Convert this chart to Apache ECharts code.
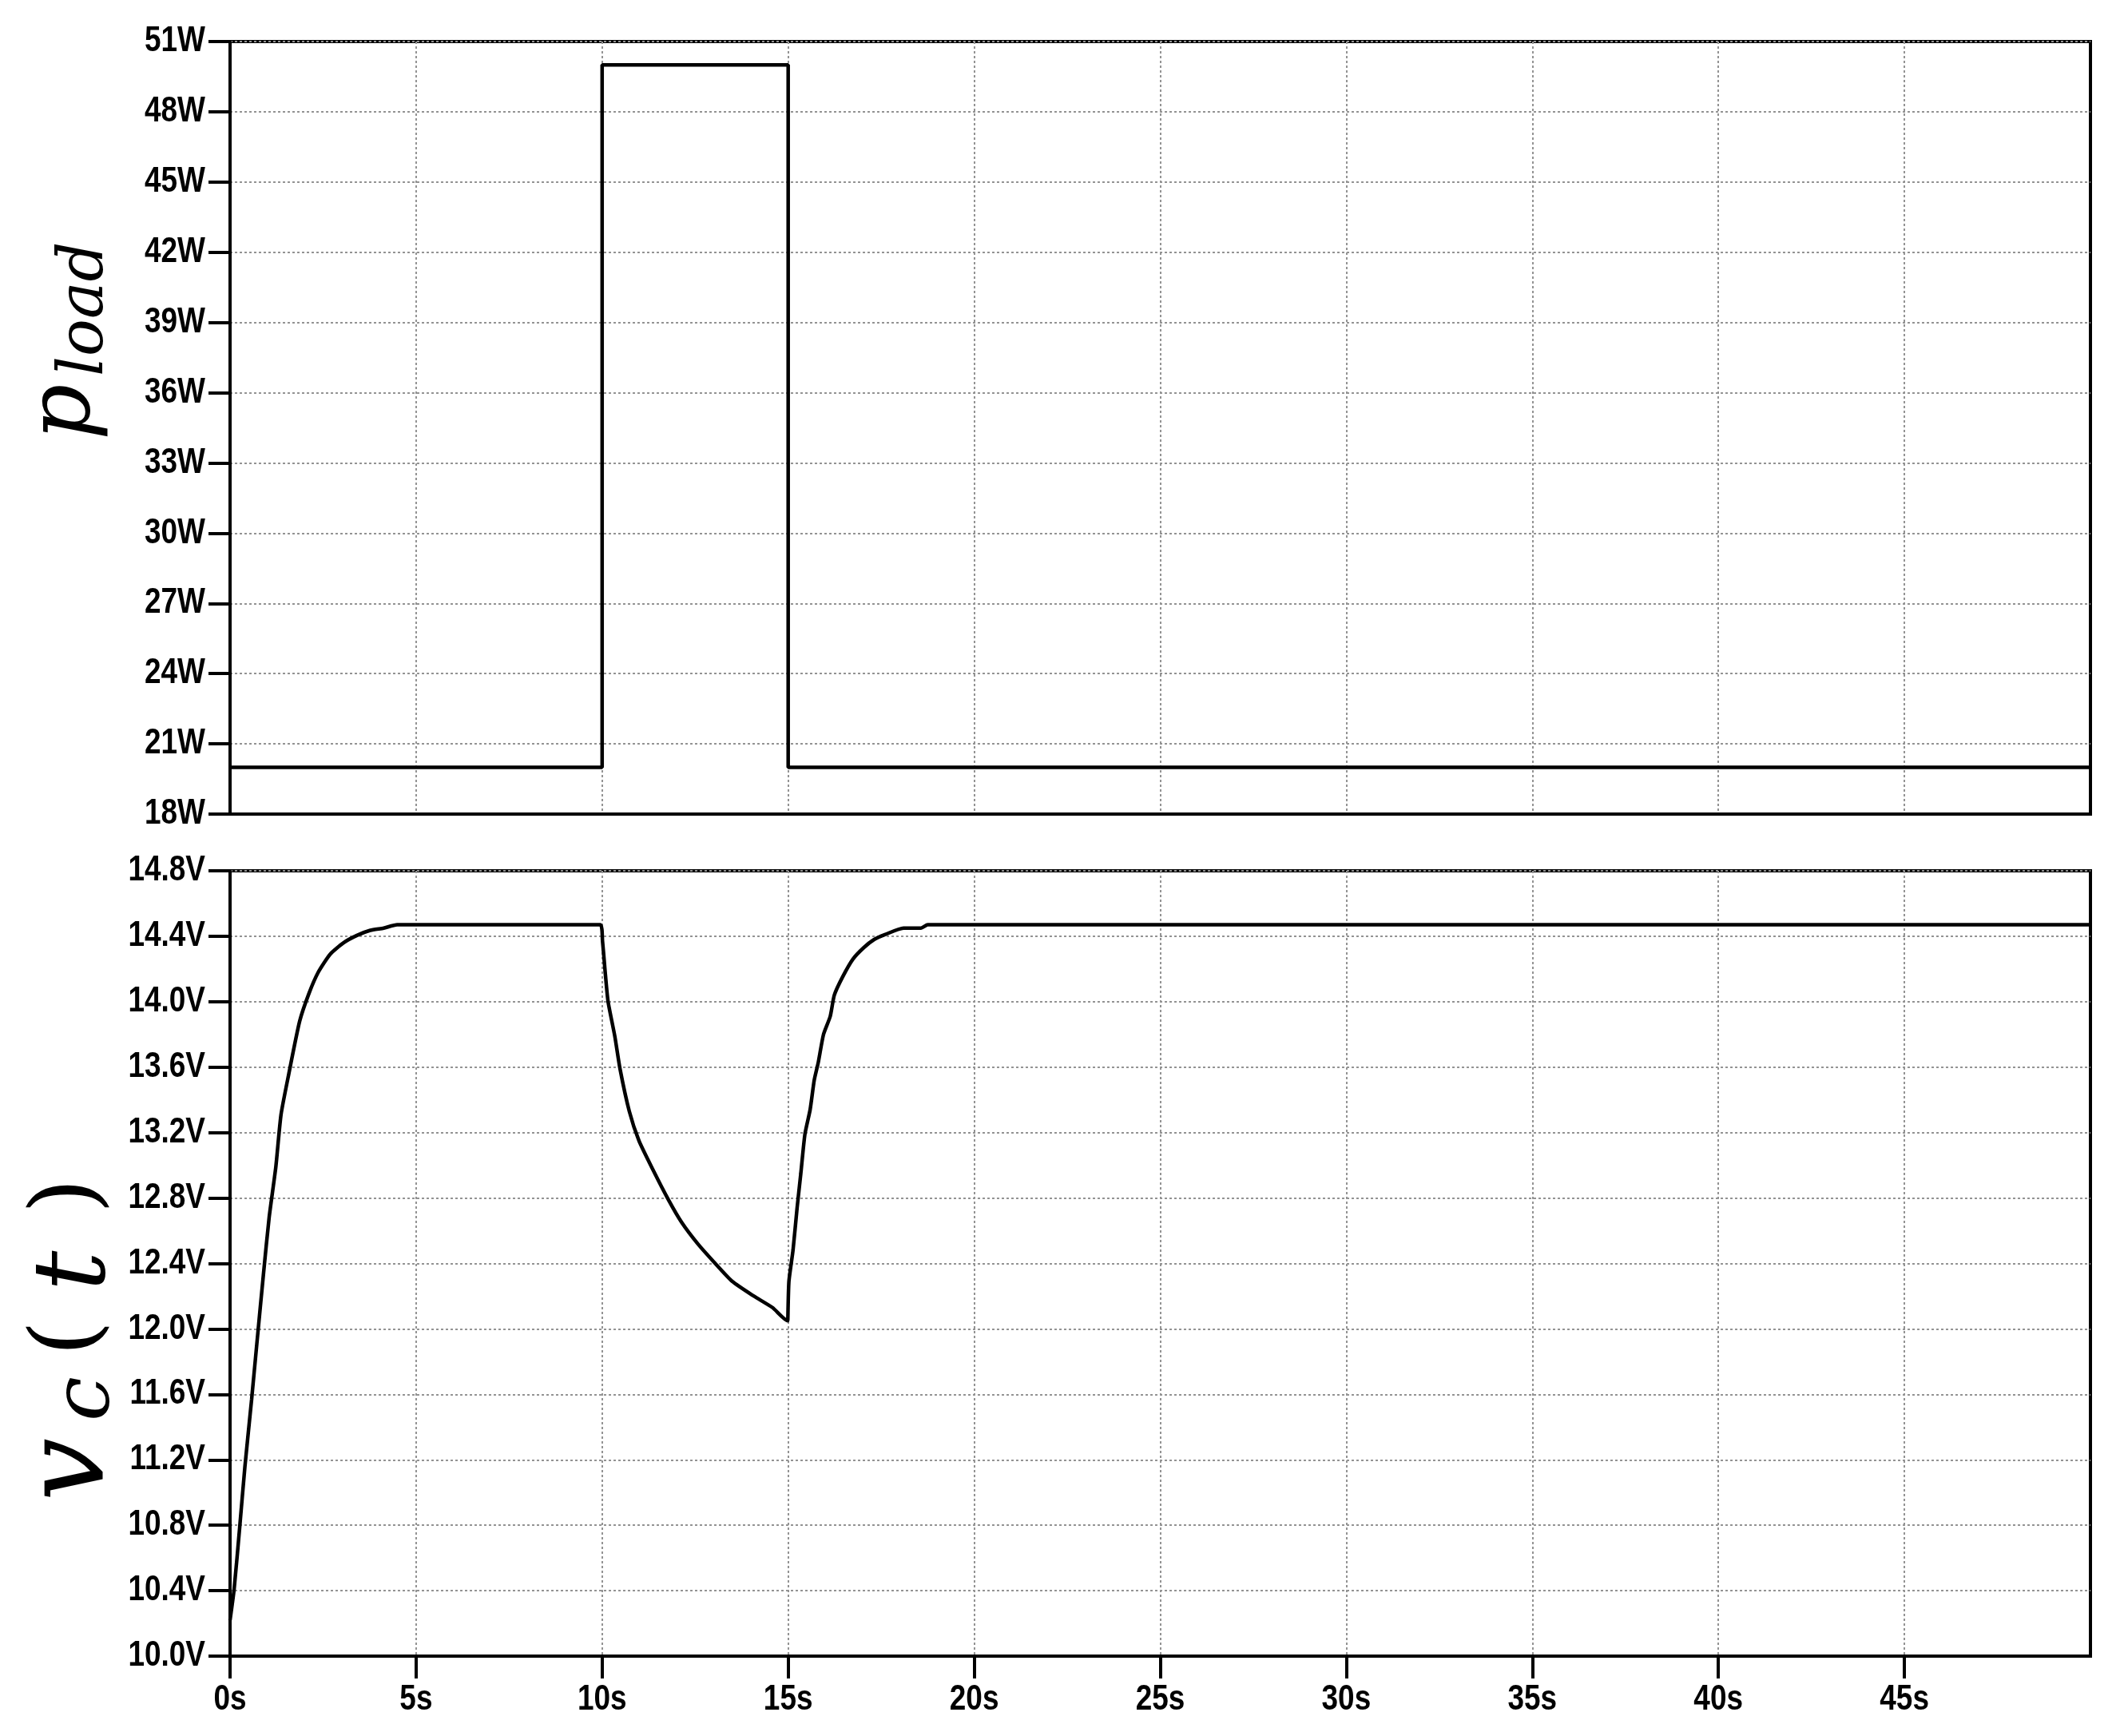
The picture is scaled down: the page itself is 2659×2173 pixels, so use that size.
<!DOCTYPE html>
<html>
<head>
<meta charset="utf-8">
<script src="https://cdn.jsdelivr.net/npm/echarts@6/dist/echarts.min.js"></script>
<style>
html,body{margin:0;padding:0;background:#fff;}
#chart{width:2659px;height:2173px;}
</style>
</head>
<body>
<div id="chart"></div>
<script>
// ---- data ----
const xTicks = [0, 5, 10, 15, 20, 25, 30, 35, 40, 45];
const pTicks = [18, 21, 24, 27, 30, 33, 36, 39, 42, 45, 48, 51];
const vTicks = [10.0, 10.4, 10.8, 11.2, 11.6, 12.0, 12.4, 12.8, 13.2, 13.6, 14.0, 14.4, 14.8];
const pTime = [0, 10, 10, 15, 15, 50];
const pLoad = [20, 20, 50, 50, 20, 20];
const vTime = [0, 0.11, 0.26, 0.40, 0.58, 0.72, 0.90, 1.05, 1.23, 1.37, 1.58, 1.87, 2.12, 2.37, 2.69, 3.05, 3.41, 3.77, 4.13, 4.49,
  9.95, 10.01, 10.09, 10.16, 10.34, 10.48, 10.73, 10.99, 11.35, 11.78, 12.14, 12.57, 13.0, 13.5, 14.08, 14.58, 14.99,
  15.0, 15.02, 15.13, 15.24, 15.34, 15.45, 15.59, 15.70, 15.81, 15.95, 16.13, 16.24, 16.46, 16.74, 17.03, 17.31, 17.60, 18.10, 18.57, 18.75, 50];
const vVolt = [10.22, 10.41, 10.79, 11.16, 11.57, 11.91, 12.34, 12.68, 12.99, 13.31, 13.56, 13.88, 14.05, 14.18, 14.29, 14.36, 14.405, 14.436, 14.45, 14.47,
  14.47, 14.37, 14.16, 14.0, 13.79, 13.59, 13.33, 13.15, 12.98, 12.79, 12.65, 12.52, 12.41, 12.29, 12.20, 12.13, 12.05,
  12.05, 12.29, 12.48, 12.74, 12.95, 13.19, 13.34, 13.52, 13.63, 13.80, 13.91, 14.04, 14.15, 14.26, 14.33, 14.38, 14.41, 14.45, 14.45, 14.47, 14.47];

const LBL_FONT = 'bold 44px "Liberation Sans", Arial, sans-serif';
const LBL_SCALE = 0.84;
const MATH_FONT = "'DejaVu Serif',serif";

const chart = echarts.init(document.getElementById('chart'), null, {renderer: 'canvas'});

const gridLine = {show: true, lineStyle: {color: '#939393', width: 2, type: [3, 3]}};
const axisLine = {show: true, onZero: false, lineStyle: {color: '#000', width: 4}};

function xAxisCfg(gridIndex, showTicks) {
  return {
    type: 'value', gridIndex: gridIndex, min: 0, max: 50, interval: 5,
    axisLine: axisLine,
    axisTick: {show: showTicks, inside: false, length: 28, lineStyle: {color: '#000', width: 4}, customValues: xTicks},
    axisLabel: {show: false},
    splitLine: gridLine
  };
}

const option = {
  animation: false,
  backgroundColor: '#fff',
  grid: [
    {left: 288, top: 52, width: 2329, height: 967, show: true, borderColor: '#000', borderWidth: 4, outerBoundsMode: 'none'},
    {left: 288, top: 1090, width: 2329, height: 983, show: true, borderColor: '#000', borderWidth: 4, outerBoundsMode: 'none'}
  ],
  xAxis: [xAxisCfg(0, false), xAxisCfg(1, true)],
  yAxis: [
    {type: 'value', gridIndex: 0, min: 18, max: 51, interval: 3,
      axisLine: axisLine,
      axisTick: {show: true, length: 27, lineStyle: {color: '#000', width: 4}},
      axisLabel: {show: false},
      splitLine: gridLine},
    {type: 'value', gridIndex: 1, min: 10, max: 14.8, interval: 0.4,
      axisLine: axisLine,
      axisTick: {show: true, length: 27, lineStyle: {color: '#000', width: 4}},
      axisLabel: {show: false},
      splitLine: gridLine}
  ],
  series: [
    {type: 'line', xAxisIndex: 0, yAxisIndex: 0, showSymbol: false, symbol: 'none',
      lineStyle: {color: '#000', width: 4.5}, data: pTime.map((t, i) => [t, pLoad[i]])},
    {type: 'line', xAxisIndex: 1, yAxisIndex: 1, showSymbol: false, symbol: 'none', smooth: 0.2,
      lineStyle: {color: '#000', width: 4.5}, data: vTime.map((t, i) => [t, vVolt[i]])}
  ]
};
chart.setOption(option);

// tick labels (narrow bold), positioned through the axes' own scales
function lbl(text, pos, align, vAlign) {
  return {type: 'text', x: pos[0], y: pos[1], scaleX: LBL_SCALE, silent: true,
    style: {text: text, font: LBL_FONT, fill: '#000', align: align, verticalAlign: vAlign}};
}
const graphics = [];
pTicks.forEach(v => {
  const p = chart.convertToPixel({xAxisIndex: 0, yAxisIndex: 0}, [0, v]);
  graphics.push(lbl(v + 'W', [p[0] - 31, p[1]], 'right', 'middle'));
});
vTicks.forEach(v => {
  const p = chart.convertToPixel({xAxisIndex: 1, yAxisIndex: 1}, [0, v]);
  graphics.push(lbl(v.toFixed(1) + 'V', [p[0] - 31, p[1]], 'right', 'middle'));
});
xTicks.forEach(v => {
  const p = chart.convertToPixel({xAxisIndex: 1, yAxisIndex: 1}, [v, 10]);
  graphics.push(lbl(v + 's', [p[0], p[1] + 33], 'center', 'top'));
});

// axis titles (math italic)
graphics.push(
  {type: 'group', x: 0, y: 551, rotation: Math.PI / 2, children: [
    {type: 'text', x: 0, y: 82, style: {text: 'p', font: 'italic 110px ' + MATH_FONT, fill: '#000', align: 'left', verticalAlign: 'middle'}},
    {type: 'text', x: 80, y: 108, style: {text: 'load', font: 'italic 78px ' + MATH_FONT, fill: '#000', align: 'left', verticalAlign: 'middle'}}
  ]},
  {type: 'group', x: 0, y: 1883, rotation: Math.PI / 2, children: [
    {type: 'text', x: 4, y: 93, style: {text: 'v', font: 'italic 140px ' + MATH_FONT, fill: '#000', align: 'left', verticalAlign: 'middle'}},
    {type: 'text', x: 104, y: 110, style: {text: 'c', font: 'italic 100px ' + MATH_FONT, fill: '#000', align: 'left', verticalAlign: 'middle'}},
    {type: 'text', x: 208, y: 89, style: {text: '(', font: '115px ' + MATH_FONT, fill: '#000', align: 'center', verticalAlign: 'middle'}},
    {type: 'text', x: 292, y: 98, style: {text: 't', font: 'italic 125px ' + MATH_FONT, fill: '#000', align: 'center', verticalAlign: 'middle'}},
    {type: 'text', x: 386, y: 89, style: {text: ')', font: '115px ' + MATH_FONT, fill: '#000', align: 'center', verticalAlign: 'middle'}}
  ]}
);
chart.setOption({graphic: graphics});
</script>
</body>
</html>
